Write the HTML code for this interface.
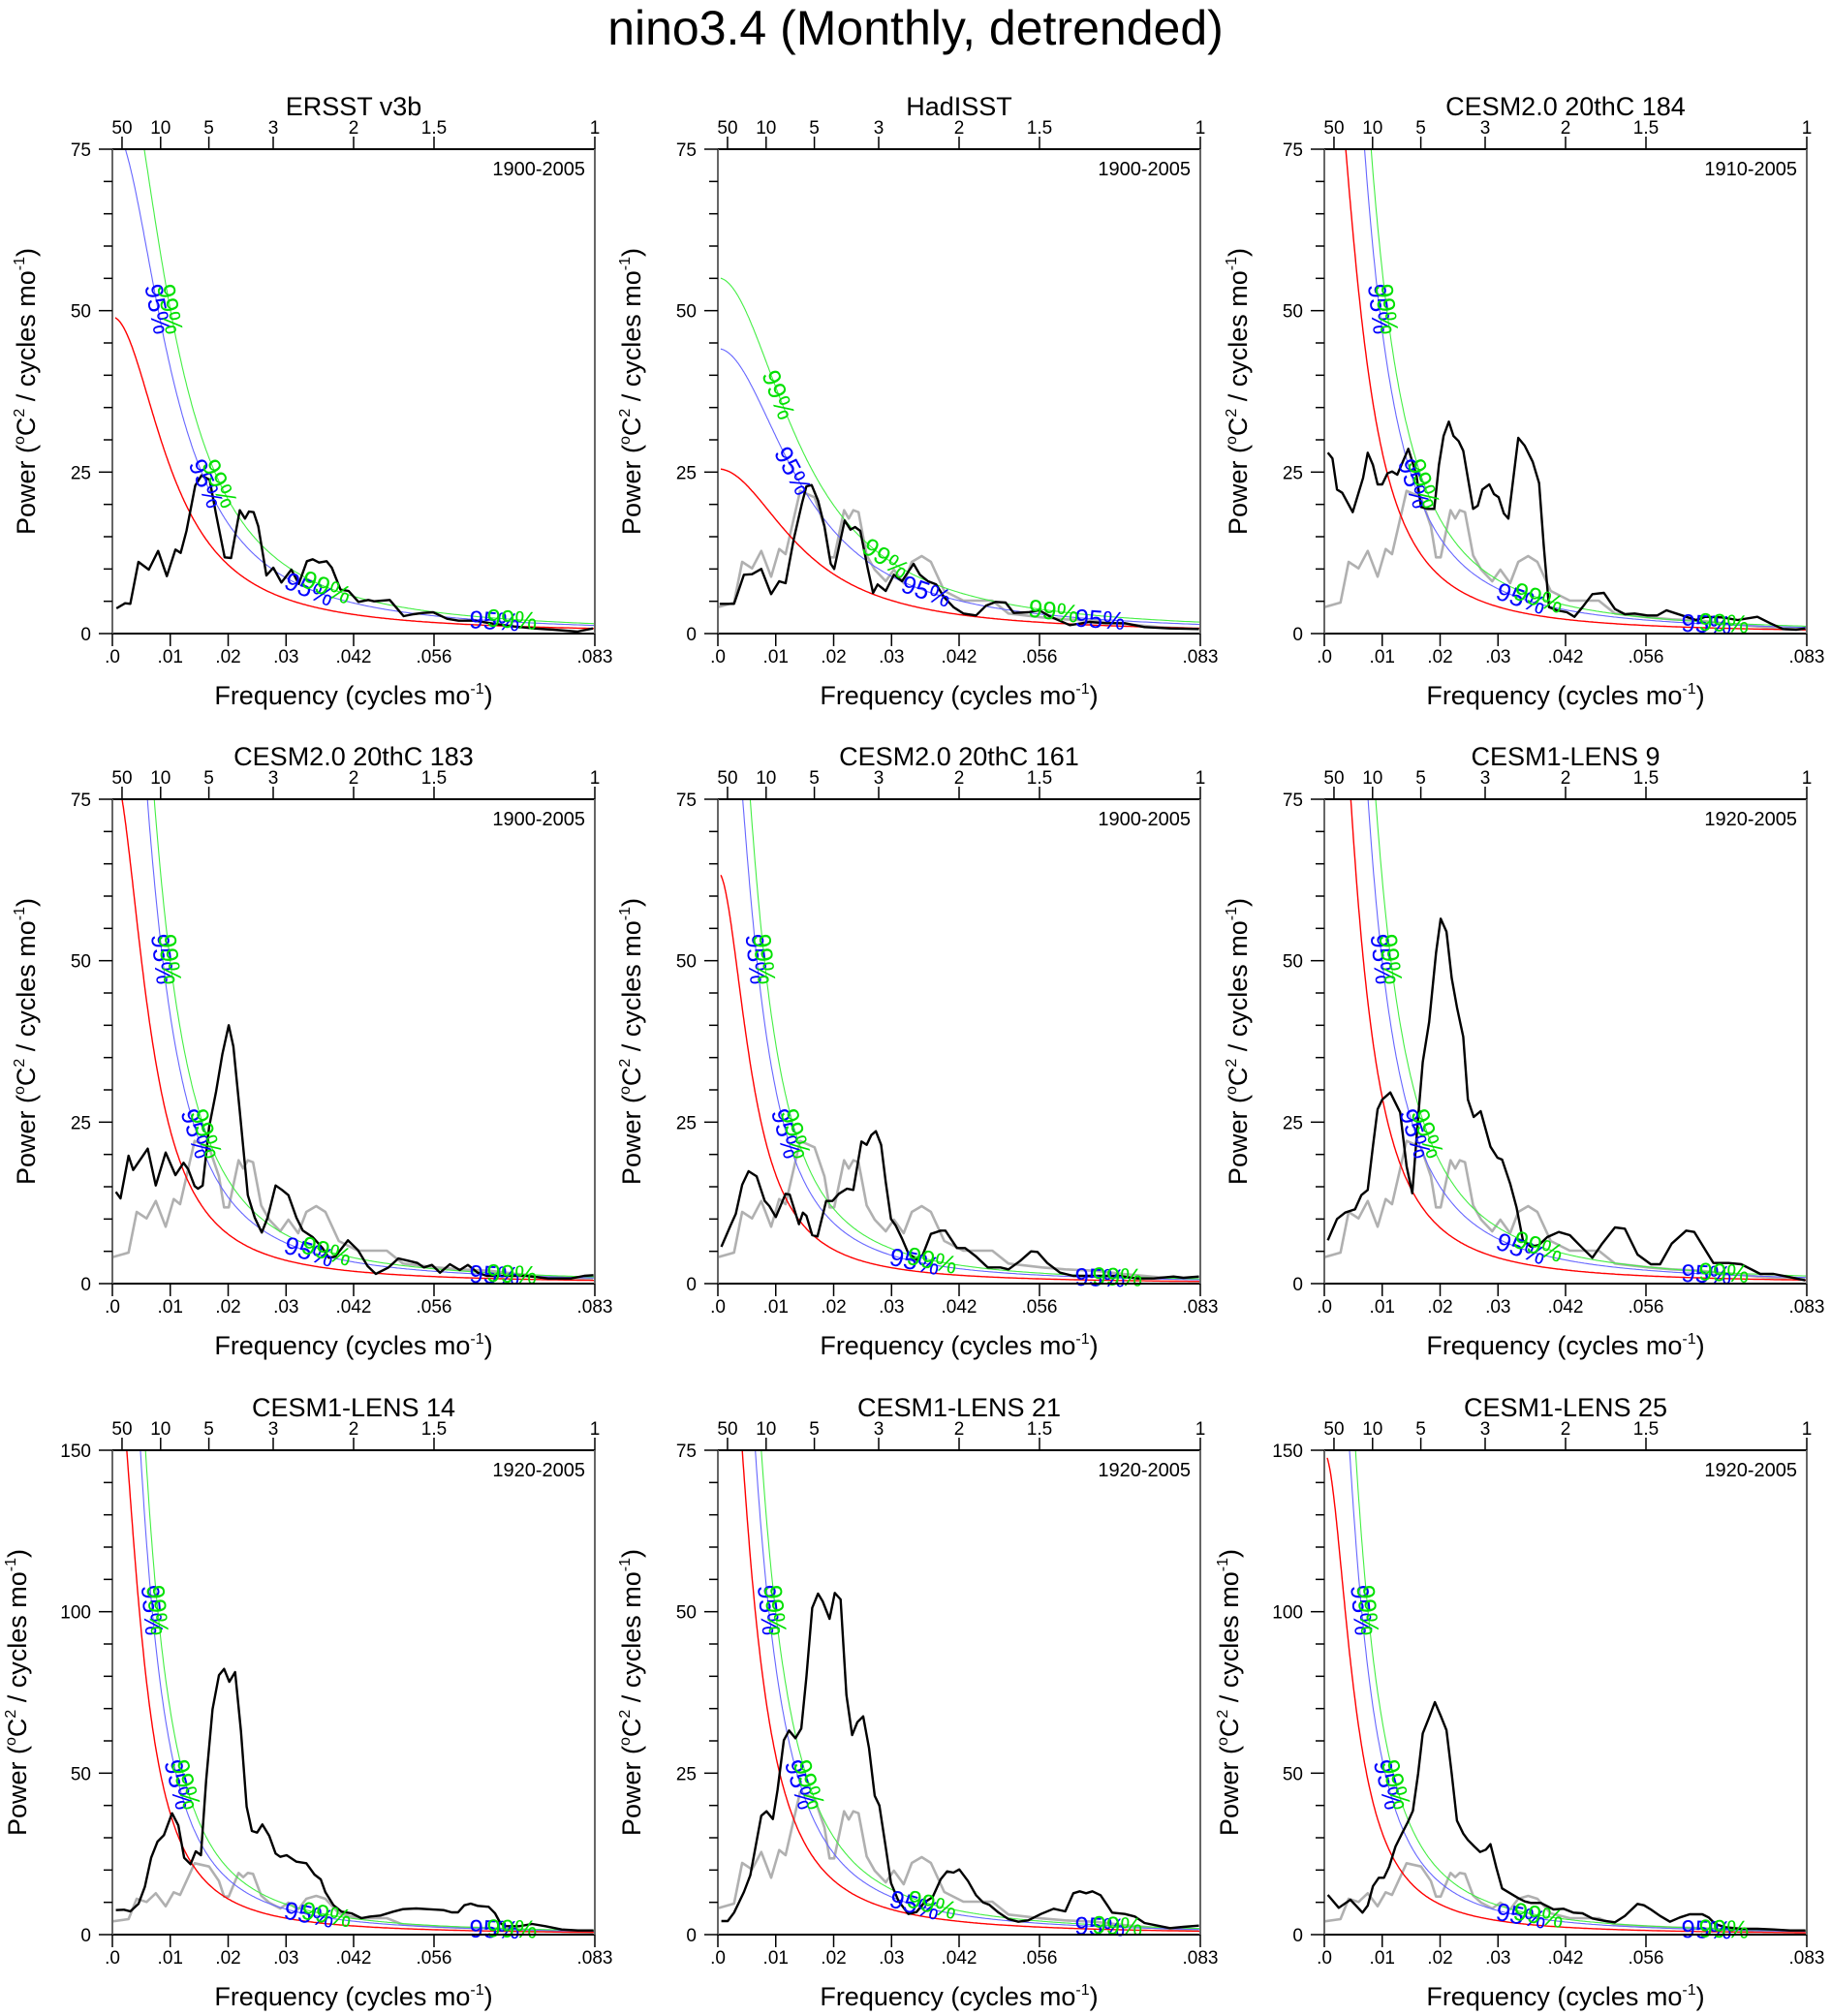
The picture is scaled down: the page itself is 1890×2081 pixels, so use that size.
<!DOCTYPE html>
<html><head><meta charset="utf-8"><title>nino3.4 spectra</title>
<style>
html,body{margin:0;padding:0;background:#fff;}
svg{display:block;font-family:"Liberation Sans",Arial,sans-serif;}
</style></head>
<body>
<svg id="chart" width="1890" height="2081" viewBox="0 0 1890 2081" xmlns="http://www.w3.org/2000/svg">
<rect x="0" y="0" width="1890" height="2081" fill="#fff"/>
<text x="945" y="46" text-anchor="middle" font-size="50" fill="#000">nino3.4 (Monthly, detrended)</text>
</svg>
<script>
// ---------- data ----------
const panelTitles = ["ERSST v3b","HadISST","CESM2.0 20thC 184","CESM2.0 20thC 183","CESM2.0 20thC 161","CESM1-LENS 9","CESM1-LENS 14","CESM1-LENS 21","CESM1-LENS 25"];
const panelYears = ["1900-2005","1900-2005","1910-2005","1900-2005","1900-2005","1920-2005","1920-2005","1920-2005","1920-2005"];
const panelYMax = [75,75,75,75,75,75,150,75,150];
// red-noise parameters per panel
const redP0 = [49,25.5,102,80,63.7,130,187,119,149];
const redR = [0.936,0.91,0.962,0.96,0.963,0.967,0.969,0.966,0.968];
const blueK = [1.6,1.73,1.67,1.75,1.78,1.73,1.55,1.5,1.72];
const greenK = [1.95,2.16,2.0,2.1,2.2,2.17,1.85,1.8,2.1];

const xTickVals = [0,0.01,0.02,0.03,0.041667,0.055556,0.083333];
const xTickLabels = [".0",".01",".02",".03",".042",".056",".083"];
const periodVals = [50,10,5,3,2,1.5,1];
const periodLabels = ["50","10","5","3","2","1.5","1"];

const greyF = [0,.0028,.0042,.0059,.0075,.0092,.0106,.0117,.0142,.0167,.0184,.0193,.0201,.0218,.0226,.0234,.0243,.0257,.0271,.029,.0304,.0321,.0335,.0352,.0368,.0391,.0424,.0474,.0502,.056,.06,.065,.07,.076,.083];
const greyV = [4.1,4.8,11.1,10.1,12.8,8.8,13.1,12.3,22.1,21.1,16.6,11.8,11.8,19.1,17.8,19.1,18.8,12.1,9.9,8.1,9.9,7.8,11.1,12,11.1,6.6,5.1,5.1,3.1,2.5,2.2,2,1.5,1,0.7];

const p1F = [.0007,.0022,.0031,.0045,.0063,.0079,.0094,.0109,.0118,.0128,.0143,.0154,.0168,.0179,.0194,.0205,.022,.0229,.0236,.0244,.0252,.0266,.0278,.0292,.0309,.0322,.0336,.0346,.0357,.037,.0379,.0394,.0408,.0425,.0442,.0452,.0479,.0503,.052,.0537,.0554,.0578,.0598,.0626,.066,.0694,.0728,.0762,.0803,.083];
const p1V = [3.9,4.7,4.6,11.1,9.9,12.8,8.9,13,12.5,15.9,22.9,24.5,23.8,18.5,11.8,11.7,19.1,17.8,18.9,18.8,16.6,9,10.2,7.9,9.9,7.7,11.2,11.5,11,11.2,10.2,6.8,6.6,4.9,5.2,5,5.2,2.7,3,3.2,3.3,2.3,2,2,1.5,1.1,0.8,0.6,0.3,0.8];

const p2F = [.0003,.0028,.0045,.0059,.0075,.0092,.0106,.0117,.0131,.0145,.0153,.0162,.0173,.0184,.0195,.0201,.0212,.0219,.0229,.0237,.0246,.0259,.0268,.0276,.029,.0304,.0318,.0338,.0349,.0363,.0377,.0391,.0407,.0424,.0446,.0463,.048,.0497,.0511,.0536,.0555,.0575,.0608,.0642,.067,.0703,.0737,.0781,.0831];
const p2V = [4.6,4.6,9.1,9.2,10,6.1,8.1,7.8,14.6,20.1,22.8,23,20.6,16.6,10.8,10,14.6,17.5,16.1,16.5,15.9,10,6.3,7.6,6.6,9.1,8.1,10.8,9.1,8.1,7.6,5.6,4.1,3.1,2.8,4.3,4.9,4.8,3.2,3.3,3.6,2.6,1.3,1.8,1.6,1.6,1,0.8,0.7];

const p3F = [.0006,.0014,.0022,.0031,.0049,.0067,.0075,.0084,.0092,.01,.0109,.0117,.0126,.0145,.0159,.0167,.0179,.019,.0198,.0206,.0215,.0223,.0232,.024,.0257,.0265,.0273,.0285,.0293,.0301,.031,.0318,.0335,.0346,.036,.0371,.0379,.0388,.0402,.0419,.0432,.0446,.0463,.0483,.0502,.0519,.0536,.0558,.0575,.0591,.0608,.0625,.0642,.0658,.0686,.0714,.0748,.077,.0792,.0815,.0831];
const p3V = [28,27.1,22.3,21.8,18.8,24.1,28,26.1,23.1,23.1,24.8,25.1,24.6,28.6,24.6,19.6,19.3,19.3,26.1,30.6,32.8,30.6,29.8,28.3,19.3,19.8,22.3,23.1,21.6,21.1,18.6,17.8,30.3,29.1,26.6,23.3,13.6,4.1,3.6,3.3,2.6,4.1,6.1,6.3,3.8,3,3.1,2.8,2.8,3.6,3.1,2.6,2.1,2.6,2.5,2.1,2.6,1.6,0.7,0.6,0.8];

const p4F = [.0006,.0014,.0028,.0036,.0061,.0075,.0092,.0109,.0123,.0131,.0142,.0148,.0156,.0167,.0179,.019,.0201,.0209,.022,.0234,.0246,.0258,.0268,.0282,.0293,.0304,.0318,.0329,.0346,.0363,.0374,.0385,.0407,.0424,.0441,.0455,.0477,.0494,.0513,.0527,.0538,.0552,.0566,.0583,.06,.0614,.0631,.0647,.0681,.0714,.0753,.0792,.0815,.0831];
const p4V = [14.2,13.2,19.8,17.6,20.9,15.2,20.3,16.8,18.7,17.7,15.1,14.7,15.2,24.2,29.7,35.5,40,36.7,26.7,13.7,10.2,7.9,10.2,15.2,14.5,13.7,10.2,8.2,7.2,5.5,4,4.2,6.7,5.2,2.7,1.5,2.5,3.9,3.5,3.2,2.5,2.9,1.7,3,2.1,2.9,1.7,1.2,1.2,1.2,0.8,0.8,1.2,1.3];

const p5F = [.0006,.0022,.0031,.0042,.0053,.0067,.0081,.0089,.01,.0117,.0124,.014,.0147,.0153,.0163,.0172,.0187,.0198,.0209,.0223,.0234,.0248,.0257,.0265,.0273,.0282,.029,.0299,.0307,.0318,.0329,.0343,.0354,.0368,.0385,.0393,.0413,.0427,.0446,.0466,.0488,.0502,.0522,.0541,.0552,.0569,.0591,.0614,.0658,.0692,.0725,.0753,.0787,.0804,.0831];
const p5V = [5.7,9,10.8,15.3,17.4,16.6,12.8,12,10.3,13.9,13.8,9.2,11,10.5,7.5,7.3,12.8,12.8,13.9,14.7,14.5,22,21.5,23,23.6,21.5,15.7,10,9,7,4.7,3.7,4.5,7.7,8.2,8.2,5.5,5.5,4.2,2.5,2.5,2.2,3.5,5,4.9,3.2,1.7,1.2,1.2,1.2,0.8,0.8,1.1,0.9,1.1];

const p6F = [.0006,.0022,.0036,.0053,.0064,.0075,.0084,.0092,.01,.0114,.0131,.0142,.0152,.0162,.017,.0181,.0193,.0201,.0211,.022,.0229,.024,.0248,.0258,.027,.0287,.0299,.0307,.0321,.0332,.0343,.0357,.0371,.0385,.0405,.0424,.0446,.0463,.048,.0502,.0519,.0541,.0564,.058,.06,.0625,.0639,.0672,.0698,.072,.0753,.0776,.0804,.0831];
const p6V = [6.7,10,11,11.5,13.7,14.5,21.3,27,28.5,29.6,26.5,18.2,14,25.7,34.3,40.5,51.2,56.5,54.5,47.3,42.8,38.2,28.5,25.8,26.7,21.2,19.5,19.2,15.5,11.8,6.7,5.7,6,7.2,8,7.5,5.5,4,6.2,8.7,8.5,4.5,3,3,6.2,8.2,8,3.2,3.2,3,1.5,1.5,1,0.5];

const p7F = [.0006,.002,.0031,.0045,.0056,.0067,.0078,.0089,.0103,.0114,.0124,.0135,.0144,.0153,.0162,.0173,.0184,.0193,.0202,.0212,.0222,.0232,.0241,.025,.0259,.0271,.0282,.029,.0301,.0318,.0335,.0349,.036,.0368,.0382,.0396,.0413,.043,.0446,.0463,.0485,.0502,.0525,.0544,.0572,.0586,.0597,.0608,.0619,.0631,.065,.0661,.067,.0678,.0703,.0725,.0748,.0776,.0804,.0831];
const p7V = [7.6,7.7,7.2,9.5,14.8,23.8,28.8,30.8,37.6,33.8,23.8,21.8,25.8,24.6,47.8,69.8,80.3,82.3,78.3,81.3,63.1,39.6,32.1,31.6,34.1,30.6,25.1,24.1,24.6,22.6,22.1,18.6,17.1,13.1,9.1,7.1,6.6,5.1,5.6,5.9,7.1,7.9,8.1,7.9,7.6,6.9,6.9,9.1,9.6,8.9,8.6,6.6,3.6,2.6,2.6,3.3,2.6,1.6,1.3,1.3];

const p8F = [.0006,.0017,.0028,.0045,.0056,.0075,.0084,.0095,.0103,.0114,.0123,.0134,.0144,.0153,.0163,.0173,.0181,.0193,.0202,.0212,.0222,.0232,.0241,.0251,.0261,.0271,.0279,.029,.0299,.0312,.0329,.0343,.0357,.0371,.0385,.0396,.0407,.0417,.0432,.0446,.0458,.0469,.0485,.0502,.0519,.0536,.0558,.058,.06,.0614,.0625,.0636,.0647,.0661,.067,.0681,.0703,.072,.0737,.0759,.0781,.0804,.0831];
const p8V = [2.1,2.1,3.4,6.6,9.2,18.4,19.1,17.9,22.4,30.1,31.6,30.4,31.9,39.9,50.6,52.8,51.6,48.9,52.9,51.9,37.1,30.9,32.9,33.8,28.9,21.5,20,13.5,8,5.2,3.2,3.5,5,5.8,8.6,9.8,9.6,10.1,8.3,6.1,5,4.6,3.4,2.4,2,2.2,3.2,4,3.6,6.4,6.7,6.4,6.7,6.1,4.9,3.4,3.2,2.8,1.8,1.4,1,1.2,1.4];

const p9F = [.0006,.0025,.0045,.0066,.0075,.0084,.0094,.0103,.0112,.0123,.0134,.0144,.0153,.0162,.017,.0181,.0191,.0201,.0211,.022,.0229,.024,.0248,.0259,.0269,.0279,.0287,.0297,.0307,.0321,.0335,.0346,.0357,.0374,.0385,.0396,.0413,.043,.0446,.0463,.0483,.0502,.0519,.0541,.0552,.0564,.058,.0597,.0614,.0631,.0653,.0664,.0675,.0692,.072,.0748,.0776,.0804,.0831];
const p9V = [12.3,8.3,10.8,6.8,9,15,17.6,17.6,21,27.3,31.3,34.8,38.3,49.8,62.3,67.3,72,67.8,63.3,49.8,35.3,31.3,29.3,27.3,25.6,26.3,28,20.8,14.3,12.8,11.3,10.3,9.8,9.8,8.8,7.8,8,6.8,6.6,5,4.3,3.8,5.8,9.5,9.1,7.8,5.8,4,5.3,6.3,6.3,5.3,3.3,2.3,1.8,1.8,1.6,1.3,1.3];

const blackF = [p1F,p2F,p3F,p4F,p5F,p6F,p7F,p8F,p9F];
const blackV = [p1V,p2V,p3V,p4V,p5V,p6V,p7V,p8V,p9V];

// ---------- layout ----------
const NS = "http://www.w3.org/2000/svg";
const svg = document.getElementById("chart");
const colX = [116,741,1367];
const rowY = [154,825,1497];
const PW = 498, PH = 500, FMAX = 1/12;

function mk(tag, attrs, parent) {
  const el = document.createElementNS(NS, tag);
  for (const k in attrs) el.setAttribute(k, attrs[k]);
  (parent || svg).appendChild(el);
  return el;
}
function redNoise(p, f) {
  const r = redR[p];
  return redP0[p] * (1 - r) * (1 - r) / (1 + r * r - 2 * r * Math.cos(2 * Math.PI * f));
}

for (let p = 0; p < 9; p++) {
  const x0 = colX[p % 3], y0 = rowY[Math.floor(p / 3)];
  const ymax = panelYMax[p];
  const xs = f => x0 + f / FMAX * PW;
  const ys = v => y0 + PH - v / ymax * PH;

  const g = mk("g", {});
  
  

  const clipId = "clip" + p;
  const cp = mk("clipPath", {id: clipId}, g);
  mk("rect", {x: x0, y: y0, width: PW, height: PH}, cp);

  const t = mk("text", {x: x0 + PW / 2, y: y0 - 35, "text-anchor": "middle", "font-size": "27", fill: "#000"}, g);
  t.textContent = panelTitles[p];
  
  

  const yr = mk("text", {x: x0 + PW - 10, y: y0 + 27, "text-anchor": "end", "font-size": "20", fill: "#000"}, g);
  yr.textContent = panelYears[p];
  
  

  const sg = mk("g", {"clip-path": "url(#" + clipId + ")"}, g);
  
  

  function polyFrom(F, V) {
    const n = Math.min(F.length, V.length);
    const pts = [];
    for (let i = 0; i < n; i++) pts.push(xs(F[i]).toFixed(1) + "," + ys(V[i]).toFixed(1));
    return pts.join(" ");
  }
  const fGrid = [];
  for (let i = 0; i <= 400; i++) fGrid.push(0.0005 + (FMAX - 0.0005) * Math.pow(i / 400, 1.6));

  if (p > 0) {
    const gl = mk("polyline", {points: polyFrom(greyF, greyV), fill: "none", stroke: "#b0b0b0", "stroke-width": "2.6", "stroke-linejoin": "round"}, sg);
    
    
  }
  const curves = [["red-noise-curve", "#ff0000", 1, 1.4], ["confidence-95-curve", "#6666ff", blueK[p], 1.1], ["confidence-99-curve", "#44ee44", greenK[p], 1.1]];
  curves.forEach(c => {
    const pts = fGrid.map(f => xs(f).toFixed(1) + "," + ys(redNoise(p, f) * c[2]).toFixed(1)).join(" ");
    const pl = mk("polyline", {points: pts, fill: "none", stroke: c[1], "stroke-width": c[3]}, sg);
    
    
  });
  const bl = mk("polyline", {points: polyFrom(blackF[p], blackV[p]), fill: "none", stroke: "#000", "stroke-width": "2.4", "stroke-linejoin": "round"}, sg);
  
  

  function freqForValue(k, target) {
    let lo = 0.0003, hi = FMAX;
    for (let i = 0; i < 60; i++) {
      const mid = (lo + hi) / 2;
      if (redNoise(p, mid) * k > target) lo = mid; else hi = mid;
    }
    return (lo + hi) / 2;
  }
  function placeLabel(k, f, txt, color, name) {
    const v = redNoise(p, f) * k;
    const df = 0.0004;
    const xa = xs(f - df), ya = ys(redNoise(p, f - df) * k);
    const xb = xs(f + df), yb = ys(redNoise(p, f + df) * k);
    const ang = Math.atan2(yb - ya, xb - xa) * 180 / Math.PI;
    const x = xs(f), y = ys(v);
    const lt = mk("text", {x: x, y: y, "text-anchor": "middle", "dominant-baseline": "central", "font-size": "26", fill: color, transform: "rotate(" + ang.toFixed(1) + " " + x.toFixed(1) + " " + y.toFixed(1) + ")"}, g);
    lt.textContent = txt;
    
    
  }
  let bF, gF;
  if (p === 1) {
    bF = [0.013, 0.036, 0.066];
    gF = [0.0105, 0.029, 0.058];
  } else {
    bF = [freqForValue(blueK[p], 0.67 * ymax), freqForValue(blueK[p], 0.31 * ymax), 0.034, 0.066];
    gF = [freqForValue(greenK[p], 0.67 * ymax), freqForValue(greenK[p], 0.31 * ymax), 0.037, 0.069];
  }
  bF.forEach(f => placeLabel(blueK[p], f, "95%", "#0000ff", "label-95-percent"));
  gF.forEach(f => placeLabel(greenK[p], f, "99%", "#00e000", "label-99-percent"));

  const frame = mk("g", {}, g);
  
  
  mk("line", {x1: x0, y1: y0 + PH, x2: x0 + PW, y2: y0 + PH, stroke: "#000", "stroke-width": "2"}, frame);
  mk("line", {x1: x0, y1: y0, x2: x0 + PW, y2: y0, stroke: "#000", "stroke-width": "2"}, frame);
  mk("line", {x1: x0, y1: y0, x2: x0, y2: y0 + PH, stroke: "#666", "stroke-width": "2"}, frame);
  mk("line", {x1: x0 + PW, y1: y0, x2: x0 + PW, y2: y0 + PH, stroke: "#666", "stroke-width": "2"}, frame);

  const minorStep = ymax / 15;
  for (let i = 0; i <= 15; i++) {
    const v = i * minorStep;
    const major = (i % 5 === 0);
    mk("line", {x1: x0 - (major ? 14 : 9), y1: ys(v), x2: x0, y2: ys(v), stroke: "#000", "stroke-width": "1.5"}, frame);
    if (major) {
      const tl = mk("text", {x: x0 - 22, y: ys(v) + 7, "text-anchor": "end", "font-size": "19", fill: "#000"}, g);
      tl.textContent = String(Math.round(v));
      
      
    }
  }
  xTickVals.forEach((f, i) => {
    mk("line", {x1: xs(f), y1: y0 + PH, x2: xs(f), y2: y0 + PH + 13, stroke: "#000", "stroke-width": "1.5"}, frame);
    const tl = mk("text", {x: xs(f), y: y0 + PH + 30, "text-anchor": "middle", "font-size": "19", fill: "#000"}, g);
    tl.textContent = xTickLabels[i];
    
    
  });
  periodVals.forEach((P, i) => {
    const f = 1 / (12 * P);
    mk("line", {x1: xs(f), y1: y0, x2: xs(f), y2: y0 - 13, stroke: "#000", "stroke-width": "1.5"}, frame);
    const tl = mk("text", {x: xs(f), y: y0 - 16, "text-anchor": "middle", "font-size": "19", fill: "#000"}, g);
    tl.textContent = periodLabels[i];
    
    
  });

  const xt = mk("text", {x: x0 + PW / 2, y: y0 + PH + 73, "text-anchor": "middle", "font-size": "27", fill: "#000"}, g);
  xt.innerHTML = 'Frequency (cycles mo<tspan dy="-11" font-size="16">-1</tspan><tspan dy="11">)</tspan>';
  
  

  const yx = x0 - (ymax > 100 ? 89 : 80), yc = y0 + PH / 2;
  const yt = mk("text", {x: yx, y: yc, "text-anchor": "middle", "font-size": "27", fill: "#000", transform: "rotate(-90 " + yx + " " + yc + ")"}, g);
  yt.innerHTML = 'Power (<tspan dy="-11" font-size="16">o</tspan><tspan dy="11">C</tspan><tspan dy="-11" font-size="16">2</tspan><tspan dy="11"> / cycles mo</tspan><tspan dy="-11" font-size="16">-1</tspan><tspan dy="11">)</tspan>';
  
  
}
</script>
</body></html>
